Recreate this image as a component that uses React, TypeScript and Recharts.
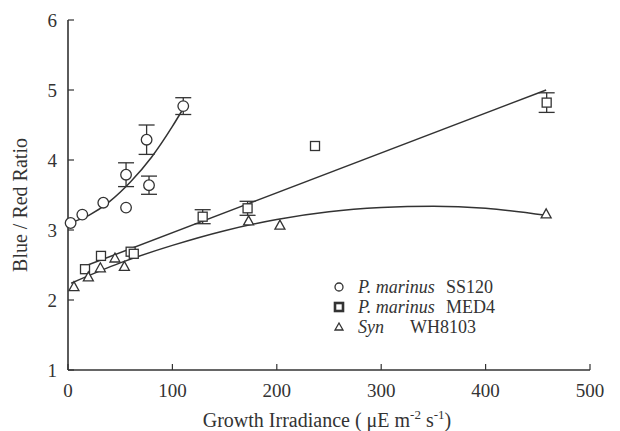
import {
  ScatterChart,
  Scatter,
  XAxis,
  YAxis,
  ErrorBar,
  Legend,
} from "recharts";

// P. marinus SS120
const ss120X = [2.5, 13.7, 33.8, 55.6, 55.6, 75.3, 77.6, 110.4];
const ss120Y = [3.1, 3.22, 3.39, 3.79, 3.32, 4.29, 3.64, 4.77];
const ss120Err = [0, 0, 0, 0.17, 0, 0.21, 0.13, 0.12];

// P. marinus MED4
const med4X = [16.3, 31.6, 60, 63, 129, 172, 236.6, 458.5];
const med4Y = [2.44, 2.63, 2.69, 2.66, 3.19, 3.31, 4.2, 4.82];
const med4Err = [0, 0, 0, 0, 0.1, 0.1, 0, 0.14];

// Syn WH8103
const synX = [5.7, 19.5, 31, 45, 54, 173, 203, 458];
const synY = [2.19, 2.33, 2.46, 2.6, 2.48, 3.13, 3.07, 3.23];

// fitted curves
const ss120FitX = [2, 20, 40, 60, 80, 100, 109];
const ss120FitY = [3.1, 3.21, 3.41, 3.69, 4.04, 4.48, 4.7];
const med4FitX = [12, 458];
const med4FitY = [2.46, 5.0];
const synFitX = [3, 50, 100, 150, 200, 250, 300, 350, 400, 458];
const synFitY = [2.24, 2.53, 2.78, 2.99, 3.15, 3.26, 3.32, 3.34, 3.31, 3.21];

const xTicks = [0, 100, 200, 300, 400, 500];
const yTicks = [1, 2, 3, 4, 5, 6];

const toPoints = (xs: number[], ys: number[], errs?: number[]) =>
  xs.map((x, i) => ({ x, y: ys[i], err: errs ? errs[i] : 0 }));

const INK = "#333";
const FONT = "'Liberation Serif', 'Times New Roman', serif";

const BottomTick = (props: any) => {
  const { x, y, payload } = props;
  return (
    <g>
      <line x1={x} x2={x} y1={y} y2={y - 6} stroke={INK} strokeWidth={1.2} />
      <text x={x} y={y + 27} textAnchor="middle" fontSize={19} fontFamily={FONT} fill={INK}>
        {payload.value}
      </text>
    </g>
  );
};

const TopTick = (props: any) => {
  const { x, y } = props;
  return <line x1={x} x2={x} y1={y} y2={y + 6} stroke={INK} strokeWidth={1.2} />;
};

const LeftTick = (props: any) => {
  const { x, y, payload } = props;
  return (
    <g>
      <line x1={x} x2={x + 6} y1={y} y2={y} stroke={INK} strokeWidth={1.2} />
      <text x={x - 11} y={y + 7} textAnchor="end" fontSize={19} fontFamily={FONT} fill={INK}>
        {payload.value}
      </text>
    </g>
  );
};

const RightTick = (props: any) => {
  const { x, y } = props;
  return <line x1={x} x2={x - 6} y1={y} y2={y} stroke={INK} strokeWidth={1.2} />;
};

const CircleShape = (props: any) => (
  <circle cx={props.cx} cy={props.cy} r={5.3} fill="#fff" stroke={INK} strokeWidth={1.3} />
);

const SquareShape = (props: any) => (
  <rect x={props.cx - 4.5} y={props.cy - 4.5} width={9} height={9} fill="#fff" stroke={INK} strokeWidth={1.3} />
);

const TriangleShape = (props: any) => {
  const { cx, cy } = props;
  return (
    <polygon
      points={`${cx},${cy - 5} ${cx - 5},${cy + 4} ${cx + 5},${cy + 4}`}
      fill="#fff"
      stroke={INK}
      strokeWidth={1.3}
    />
  );
};

const NoShape = () => <g />;

const LegendBox = () => (
  <svg width={210} height={66} style={{ overflow: "visible" }}>
    <g fontFamily={FONT} fontSize={18} fill={INK}>
      <circle cx={9} cy={13} r={4} fill="none" stroke={INK} strokeWidth={1.3} />
      <text x={28} y={19} fontStyle="italic">P. marinus</text>
      <text x={116} y={19}>SS120</text>
      <rect x={5} y={29} width={8} height={8} fill="none" stroke={INK} strokeWidth={2.6} />
      <text x={28} y={39} fontStyle="italic">P. marinus</text>
      <text x={116} y={39}>MED4</text>
      <polygon points="9,49 5,56 13,56" fill="none" stroke={INK} strokeWidth={1.3} />
      <text x={28} y={59} fontStyle="italic">Syn</text>
      <text x={80} y={59}>WH8103</text>
    </g>
  </svg>
);

const YTitle = () => (
  <text
    x={27}
    y={205}
    transform="rotate(-90 27 205)"
    textAnchor="middle"
    fontSize={20}
    fontFamily={FONT}
    fill={INK}
  >
    Blue / Red Ratio
  </text>
);

const XTitle = () => (
  <text x={327} y={427} textAnchor="middle" fontSize={20} fontFamily={FONT} fill={INK}>
    Growth Irradiance ( μE m
    <tspan dy={-8} fontSize={13}>-2</tspan>
    <tspan dy={8}> s</tspan>
    <tspan dy={-8} fontSize={13}>-1</tspan>
    <tspan dy={8}>)</tspan>
  </text>
);

export default function App() {
  return (
    <div style={{ position: "absolute", left: 0, top: 0, background: "#fff" }}>
      <ScatterChart width={620} height={431} margin={{ top: 20, right: 30, left: 0, bottom: 0 }}>
        <XAxis
          xAxisId="b"
          type="number"
          dataKey="x"
          domain={[0, 500]}
          ticks={xTicks}
          height={61}
          tickSize={0}
          tickMargin={0}
          tick={<BottomTick />}
          stroke={INK}
          strokeWidth={1.6}
          label={{ content: () => <XTitle /> }}
        />
        <XAxis
          xAxisId="t"
          orientation="top"
          type="number"
          dataKey="x"
          domain={[0, 500]}
          ticks={xTicks}
          height={0}
          tickSize={0}
          tickMargin={0}
          tick={<TopTick />}
          stroke={INK}
          strokeWidth={1.6}
        />
        <YAxis
          yAxisId="l"
          type="number"
          dataKey="y"
          domain={[1, 6]}
          ticks={yTicks}
          width={68}
          tickSize={0}
          tickMargin={0}
          tick={<LeftTick />}
          stroke={INK}
          strokeWidth={1.6}
          label={{ content: () => <YTitle /> }}
        />
        <YAxis
          yAxisId="r"
          orientation="right"
          type="number"
          dataKey="y"
          domain={[1, 6]}
          ticks={yTicks}
          width={0}
          tickSize={0}
          tickMargin={0}
          tick={<RightTick />}
          stroke={INK}
          strokeWidth={1.6}
        />
        <Legend
          verticalAlign="middle"
          layout="horizontal"
          wrapperStyle={{ position: "absolute", left: 330, top: 274, width: 210 }}
          content={() => <LegendBox />}
        />
        <Scatter
          xAxisId="b"
          yAxisId="l"
          data={toPoints(ss120FitX, ss120FitY)}
          line={{ stroke: INK, strokeWidth: 1.5 }}
          lineJointType="monotoneX"
          shape={NoShape}
          isAnimationActive={false}
          legendType="none"
        />
        <Scatter
          xAxisId="b"
          yAxisId="l"
          data={toPoints(med4FitX, med4FitY)}
          line={{ stroke: INK, strokeWidth: 1.5 }}
          shape={NoShape}
          isAnimationActive={false}
          legendType="none"
        />
        <Scatter
          xAxisId="b"
          yAxisId="l"
          data={toPoints(synFitX, synFitY)}
          line={{ stroke: INK, strokeWidth: 1.5 }}
          lineJointType="monotoneX"
          shape={NoShape}
          isAnimationActive={false}
          legendType="none"
        />
        <Scatter
          name="P. marinus SS120"
          xAxisId="b"
          yAxisId="l"
          data={toPoints(ss120X, ss120Y, ss120Err)}
          shape={CircleShape}
          isAnimationActive={false}
        >
          <ErrorBar dataKey="err" direction="y" width={8} stroke={INK} strokeWidth={1.3} />
        </Scatter>
        <Scatter
          name="P. marinus MED4"
          xAxisId="b"
          yAxisId="l"
          data={toPoints(med4X, med4Y, med4Err)}
          shape={SquareShape}
          isAnimationActive={false}
        >
          <ErrorBar dataKey="err" direction="y" width={8} stroke={INK} strokeWidth={1.3} />
        </Scatter>
        <Scatter
          name="Syn WH8103"
          xAxisId="b"
          yAxisId="l"
          data={toPoints(synX, synY)}
          shape={TriangleShape}
          isAnimationActive={false}
        />
      </ScatterChart>
    </div>
  );
}
